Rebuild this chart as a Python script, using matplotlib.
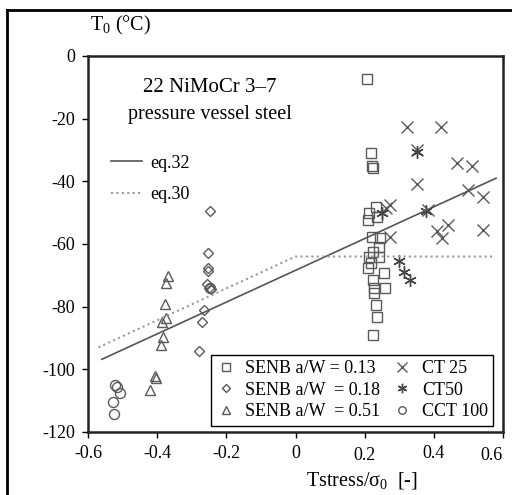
import matplotlib
matplotlib.use('Agg')
import matplotlib.pyplot as plt
from matplotlib.lines import Line2D
from matplotlib.transforms import ScaledTranslation

plt.rcParams['font.family'] = ['Liberation Serif', 'DejaVu Serif']
plt.rcParams['mathtext.fontset'] = 'custom'
plt.rcParams['mathtext.rm'] = 'Liberation Serif'
plt.rcParams['mathtext.it'] = 'Liberation Serif:italic'
plt.rcParams['axes.unicode_minus'] = False

# SENB a/W = 0.13
senb13_x = [0.206, 0.218, 0.222, 0.225, 0.232, 0.213, 0.210, 0.235, 0.220, 0.244,
            0.225, 0.213, 0.240, 0.210, 0.257, 0.225, 0.228, 0.259, 0.226, 0.232,
            0.236, 0.225, 0.218, 0.242]
senb13_y = [-7.4, -30.9, -35.0, -35.8, -48.1, -50.2, -52.3, -51.3, -57.7, -58.2,
            -62.4, -64.0, -64.0, -67.8, -69.4, -71.5, -74.1, -74.1, -75.7, -79.5,
            -83.2, -89.0, -66.0, -61.0]

# SENB a/W = 0.18
senb18_x = [-0.247, -0.252, -0.254, -0.252, -0.256, -0.250, -0.245, -0.264, -0.270, -0.278]
senb18_y = [-49.5, -63.0, -67.5, -68.5, -72.8, -74.0, -74.5, -81.0, -85.0, -94.0]

# SENB a/W = 0.51
senb51_x = [-0.370, -0.374, -0.377, -0.375, -0.387, -0.382, -0.389, -0.406, -0.403, -0.421]
senb51_y = [-70.2, -72.6, -79.3, -83.5, -84.8, -89.6, -92.2, -102.0, -102.9, -106.6]

# CT 25
ct25_x = [0.323, 0.420, 0.352, 0.466, 0.510, 0.350, 0.500, 0.543, 0.382, 0.442,
          0.408, 0.423, 0.543, 0.273, 0.273, 0.262]
ct25_y = [-22.6, -22.6, -30.0, -34.0, -35.1, -40.9, -42.8, -45.1, -49.0, -53.9,
          -56.0, -58.2, -55.5, -47.6, -57.7, -48.5]

# CT50
ct50_x = [0.350, 0.378, 0.300, 0.315, 0.330, 0.250]
ct50_y = [-30.5, -49.5, -65.5, -69.0, -71.5, -50.0]

# CCT 100
cct_x = [-0.522, -0.516, -0.507, -0.528, -0.525, -0.248]
cct_y = [-105.0, -105.6, -107.6, -110.4, -114.3, -74.0]

# fitted lines
eq32_x = [-0.56, 0.58]
eq32_y = [-96.8, -39.0]
eq30_x = [-0.57, 0.0, 0.57]
eq30_y = [-93.0, -64.0, -64.0]

x_ticks = [-0.6, -0.4, -0.2, 0, 0.2, 0.4, 0.6]
x_tick_labels = ['-0.6', '-0.4', '-0.2', '0', '0.2', '0.4', '0.6']
y_ticks = [0, -20, -40, -60, -80, -100, -120]

EDGE = '#5a5a5a'


def main():
    fig = plt.figure(figsize=(5.12, 4.95), dpi=100)
    ax = fig.add_axes([88 / 512, 1 - 432 / 495, 415 / 512, 376 / 495])

    style = dict(linestyle='none', markerfacecolor='none', markeredgecolor=EDGE,
                 markeredgewidth=1.0)
    h13, = ax.plot(senb13_x, senb13_y, marker='s', markersize=7.2, **style)
    h18, = ax.plot(senb18_x, senb18_y, marker='D', markersize=5.0, **style)
    h51, = ax.plot(senb51_x, senb51_y, marker='^', markersize=7.5, **style)
    h25, = ax.plot(ct25_x, ct25_y, marker='x', markersize=9, color=EDGE,
                   linestyle='none', markeredgewidth=1.0)
    h50, = ax.plot(ct50_x, ct50_y, marker=(6, 2, 0), markersize=9, color='#444444',
                   linestyle='none', markeredgewidth=1.0)
    hcct, = ax.plot(cct_x, cct_y, marker='o', markersize=7.2, **style)

    l32, = ax.plot(eq32_x, eq32_y, color='#555555', lw=1.2)
    l30, = ax.plot(eq30_x, eq30_y, color='#999999', lw=1.5, linestyle=(0, (1, 1.6)))

    ax.set_xlim(-0.6, 0.6)
    ax.set_ylim(-120, 0)
    ax.set_xticks(x_ticks)
    ax.set_xticklabels(x_tick_labels)
    ax.set_yticks(y_ticks)
    ax.tick_params(direction='out', length=4, width=1, labelsize=13, pad=5)
    for s in ax.spines.values():
        s.set_linewidth(1.8)
        s.set_color('#222222')

    # the last x label sits inside the frame, a couple of labels slightly lower
    xl = ax.get_xticklabels()
    xl[-1].set_horizontalalignment('right')
    for i in (4, 6):
        xl[i].set_transform(xl[i].get_transform() +
                            ScaledTranslation(0, -3 / 100, fig.dpi_scale_trans))

    ax.text(0.294, 0.915, '22 NiMoCr 3\u20137', transform=ax.transAxes,
            ha='center', va='center', fontsize=15)
    ax.text(0.294, 0.845, 'pressure vessel steel', transform=ax.transAxes,
            ha='center', va='center', fontsize=14.5)

    ax.text(0.005, 1.08, 'T$_0$ (\u00b0C)', transform=ax.transAxes,
            ha='left', va='center', fontsize=14.5)
    ax.text(0.66, -0.128, 'Tstress/\u03c3$_0$  [-]', transform=ax.transAxes,
            ha='center', va='center', fontsize=14.5)

    leg = ax.legend([h13, h18, h51, h25, h50, hcct],
                    ['SENB a/W = 0.13', 'SENB a/W  = 0.18', 'SENB a/W  = 0.51',
                     'CT 25', 'CT50', 'CCT 100'],
                    ncol=2, loc='lower right', bbox_to_anchor=(0.977, 0.017),
                    fontsize=13, markerscale=0.75, handlelength=1.0,
                    handletextpad=0.6, columnspacing=0.7, labelspacing=0.25,
                    borderpad=0.3, borderaxespad=0, fancybox=False,
                    framealpha=1, edgecolor='black')
    leg.get_frame().set_linewidth(1.0)
    ax.add_artist(leg)

    ax.legend([l32, l30], ['eq.32', 'eq.30'], loc='upper left',
              bbox_to_anchor=(0.055, 0.738), fontsize=13, frameon=False,
              handlelength=1.7, handletextpad=0.5, labelspacing=0.8,
              borderaxespad=0, borderpad=0)

    # outer frame of the figure
    fig.add_artist(Line2D([7 / 512, 7 / 512], [-0.01, 1 - 10 / 495],
                          transform=fig.transFigure, color='black', lw=2))
    fig.add_artist(Line2D([7 / 512, 1.01], [1 - 10 / 495, 1 - 10 / 495],
                          transform=fig.transFigure, color='black', lw=2))

    fig.savefig('out.png', dpi=100)


if __name__ == '__main__':
    main()
